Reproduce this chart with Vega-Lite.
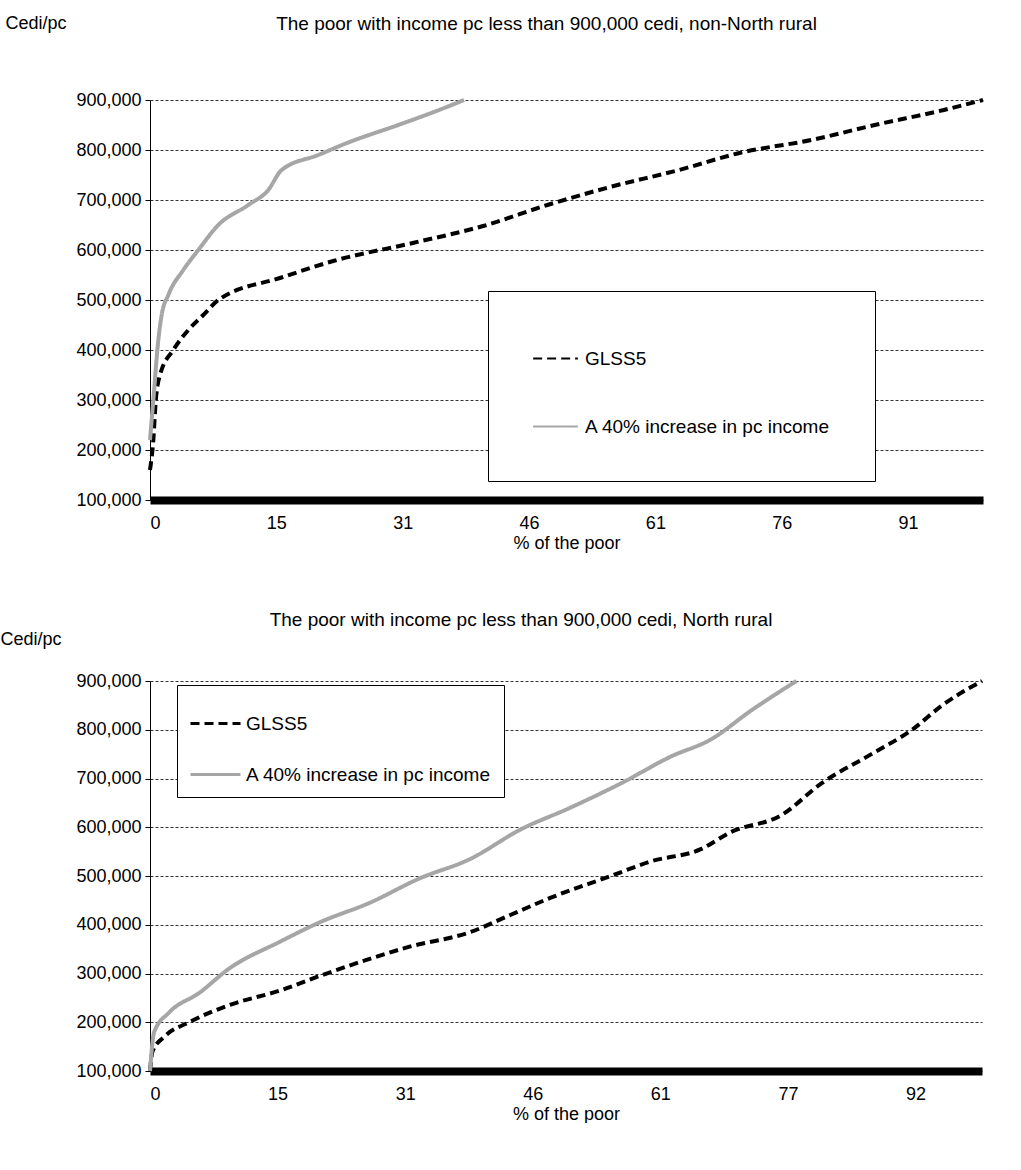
{
  "$schema": "https://vega.github.io/schema/vega-lite/v6.json",
  "background": "white",
  "padding": {"left": 0, "top": 14, "right": 0, "bottom": 0},
  "spacing": 59,
  "datasets": {
    "top": [
      {"p": 0, "v": 160000, "s": "GLSS5"}, {"p": 0.4, "v": 220000, "s": "GLSS5"}, {"p": 0.7, "v": 300000, "s": "GLSS5"},
      {"p": 1.2, "v": 350000, "s": "GLSS5"}, {"p": 2.8, "v": 400000, "s": "GLSS5"}, {"p": 4.6, "v": 440000, "s": "GLSS5"},
      {"p": 6.4, "v": 470000, "s": "GLSS5"}, {"p": 8.2, "v": 500000, "s": "GLSS5"}, {"p": 15.8, "v": 545000, "s": "GLSS5"},
      {"p": 22, "v": 578000, "s": "GLSS5"}, {"p": 31.8, "v": 615000, "s": "GLSS5"}, {"p": 40, "v": 648000, "s": "GLSS5"},
      {"p": 47.7, "v": 690000, "s": "GLSS5"}, {"p": 55, "v": 725000, "s": "GLSS5"}, {"p": 63.5, "v": 760000, "s": "GLSS5"},
      {"p": 71, "v": 795000, "s": "GLSS5"}, {"p": 79.4, "v": 820000, "s": "GLSS5"}, {"p": 87, "v": 850000, "s": "GLSS5"},
      {"p": 95.3, "v": 880000, "s": "GLSS5"}, {"p": 100, "v": 900000, "s": "GLSS5"},
      {"p": 0, "v": 220000, "s": "A 40% increase in pc income"}, {"p": 0.4, "v": 300000, "s": "A 40% increase in pc income"},
      {"p": 1, "v": 420000, "s": "A 40% increase in pc income"}, {"p": 1.4, "v": 470000, "s": "A 40% increase in pc income"},
      {"p": 2.2, "v": 510000, "s": "A 40% increase in pc income"}, {"p": 4, "v": 560000, "s": "A 40% increase in pc income"},
      {"p": 5.8, "v": 600000, "s": "A 40% increase in pc income"}, {"p": 8.2, "v": 650000, "s": "A 40% increase in pc income"},
      {"p": 11.8, "v": 690000, "s": "A 40% increase in pc income"}, {"p": 14.2, "v": 720000, "s": "A 40% increase in pc income"},
      {"p": 15.8, "v": 760000, "s": "A 40% increase in pc income"}, {"p": 20.2, "v": 790000, "s": "A 40% increase in pc income"},
      {"p": 23.8, "v": 815000, "s": "A 40% increase in pc income"}, {"p": 29.8, "v": 850000, "s": "A 40% increase in pc income"},
      {"p": 34.7, "v": 880000, "s": "A 40% increase in pc income"}, {"p": 37.7, "v": 900000, "s": "A 40% increase in pc income"}
    ],
    "bottom": [
      {"p": 0, "v": 100000, "s": "GLSS5"}, {"p": 0.3, "v": 140000, "s": "GLSS5"}, {"p": 1.7, "v": 170000, "s": "GLSS5"},
      {"p": 4.7, "v": 200000, "s": "GLSS5"}, {"p": 9.5, "v": 235000, "s": "GLSS5"}, {"p": 15.6, "v": 265000, "s": "GLSS5"},
      {"p": 20.4, "v": 295000, "s": "GLSS5"}, {"p": 26.4, "v": 330000, "s": "GLSS5"}, {"p": 31.2, "v": 355000, "s": "GLSS5"},
      {"p": 38.5, "v": 385000, "s": "GLSS5"}, {"p": 43.3, "v": 420000, "s": "GLSS5"}, {"p": 48.1, "v": 455000, "s": "GLSS5"},
      {"p": 55.4, "v": 500000, "s": "GLSS5"}, {"p": 60.2, "v": 530000, "s": "GLSS5"}, {"p": 66.2, "v": 555000, "s": "GLSS5"},
      {"p": 69.8, "v": 590000, "s": "GLSS5"}, {"p": 75.9, "v": 625000, "s": "GLSS5"}, {"p": 80.7, "v": 690000, "s": "GLSS5"},
      {"p": 86.7, "v": 750000, "s": "GLSS5"}, {"p": 91.6, "v": 800000, "s": "GLSS5"}, {"p": 95.2, "v": 850000, "s": "GLSS5"},
      {"p": 100, "v": 900000, "s": "GLSS5"},
      {"p": 0, "v": 100000, "s": "A 40% increase in pc income"}, {"p": 0.5, "v": 180000, "s": "A 40% increase in pc income"},
      {"p": 2.3, "v": 220000, "s": "A 40% increase in pc income"}, {"p": 5.9, "v": 260000, "s": "A 40% increase in pc income"},
      {"p": 9.5, "v": 310000, "s": "A 40% increase in pc income"}, {"p": 15.6, "v": 365000, "s": "A 40% increase in pc income"},
      {"p": 20.4, "v": 405000, "s": "A 40% increase in pc income"}, {"p": 26.4, "v": 445000, "s": "A 40% increase in pc income"},
      {"p": 32.4, "v": 495000, "s": "A 40% increase in pc income"}, {"p": 38.5, "v": 535000, "s": "A 40% increase in pc income"},
      {"p": 44.5, "v": 595000, "s": "A 40% increase in pc income"}, {"p": 50.5, "v": 640000, "s": "A 40% increase in pc income"},
      {"p": 56.6, "v": 690000, "s": "A 40% increase in pc income"}, {"p": 62.6, "v": 745000, "s": "A 40% increase in pc income"},
      {"p": 67.4, "v": 780000, "s": "A 40% increase in pc income"}, {"p": 72.3, "v": 840000, "s": "A 40% increase in pc income"},
      {"p": 77.7, "v": 900000, "s": "A 40% increase in pc income"}
    ]
  },
  "vconcat": [
    {
      "width": 833,
      "height": 400,
      "title": {"text": "The poor with income pc less than 900,000 cedi, non-North rural", "dx": -20, "offset": 0, "dy": 20},
      "data": {"name": "top"},
      "mark": {"type": "line", "strokeWidth": 4, "interpolate": "monotone"},
      "encoding": {
        "x": {"field": "p", "type": "quantitative", "scale": {"domain": [0, 100], "nice": false},
          "title": "% of the poor",
          "axis": {"values": [0, 15.17, 30.33, 45.5, 60.67, 75.83, 91], "grid": false,
            "labelExpr": "['0','15','31','46','61','76','91'][round(datum.value/15.17)]"}},
        "y": {"field": "v", "type": "quantitative", "scale": {"domain": [100000, 900000], "nice": false},
          "title": "Cedi/pc", "axis": {"values": [100000, 200000, 300000, 400000, 500000, 600000, 700000, 800000, 900000], "labelExpr": "format(datum.value, ',.0f')", "titleAngle": 0, "titleX": -145, "titleY": -68, "titleAlign": "left"}},
        "color": {"field": "s", "type": "nominal", "sort": ["GLSS5"], "scale": {"domain": ["GLSS5", "A 40% increase in pc income"], "range": ["black", "#a6a6a6"]},
          "legend": {"orient": "none", "legendX": 338, "legendY": 191, "title": null, "padding": 44, "rowPadding": 34, "symbolStrokeWidth": 2, "symbolSize": 2000, "labelFontSize": 19, "labelLimit": 500, "labelOffset": 6}},
        "strokeDash": {"field": "s", "type": "nominal", "sort": ["GLSS5"], "scale": {"domain": ["GLSS5", "A 40% increase in pc income"], "range": [[9, 5], [1, 0]]}, "legend": null}
      }
    },
    {
      "width": 832,
      "height": 390,
      "title": {"text": "The poor with income pc less than 900,000 cedi, North rural", "dx": -45, "offset": 0, "dy": 0},
      "data": {"name": "bottom"},
      "mark": {"type": "line", "strokeWidth": 4, "interpolate": "monotone"},
      "encoding": {
        "x": {"field": "p", "type": "quantitative", "scale": {"domain": [0, 100], "nice": false},
          "title": "% of the poor",
          "axis": {"values": [0, 15.33, 30.67, 46, 61.33, 76.67, 92], "grid": false,
            "labelExpr": "['0','15','31','46','61','77','92'][round(datum.value/15.33)]"}},
        "y": {"field": "v", "type": "quantitative", "scale": {"domain": [100000, 900000], "nice": false},
          "title": "Cedi/pc", "axis": {"values": [100000, 200000, 300000, 400000, 500000, 600000, 700000, 800000, 900000], "labelExpr": "format(datum.value, ',.0f')", "titleAngle": 0, "titleX": -150, "titleY": -33, "titleAlign": "left"}},
        "color": {"field": "s", "type": "nominal", "sort": ["GLSS5"], "scale": {"domain": ["GLSS5", "A 40% increase in pc income"], "range": ["black", "#a6a6a6"]},
          "legend": {"orient": "none", "legendX": 27, "legendY": 4, "title": null, "padding": 12, "rowPadding": 14, "symbolStrokeWidth": 3, "symbolSize": 2500, "labelFontSize": 19, "labelLimit": 500}},
        "strokeDash": {"field": "s", "type": "nominal", "sort": ["GLSS5"], "scale": {"domain": ["GLSS5", "A 40% increase in pc income"], "range": [[9, 5], [1, 0]]}, "legend": null}
      }
    }
  ],
  "resolve": {"scale": {"color": "independent", "strokeDash": "independent"}},
  "config": {
    "font": "Liberation Sans",
    "view": {"stroke": null},
    "title": {"fontSize": 19, "fontWeight": "normal", "color": "black", "anchor": "middle"},
    "axis": {"labelFontSize": 18, "titleFontSize": 18, "titleFontWeight": "normal", "labelColor": "black", "titleColor": "black",
      "domainColor": "black", "tickColor": "black", "gridColor": "black", "gridDash": [3, 2], "gridWidth": 0.8},
    "axisX": {"domainWidth": 8, "ticks": false, "labelPadding": 14, "titlePadding": 2},
    "axisY": {"tickSize": 5, "labelPadding": 4},
    "legend": {"strokeColor": "black", "fillColor": "white", "symbolType": "stroke", "labelColor": "black", "symbolDash": [9, 5]}
  }
}
